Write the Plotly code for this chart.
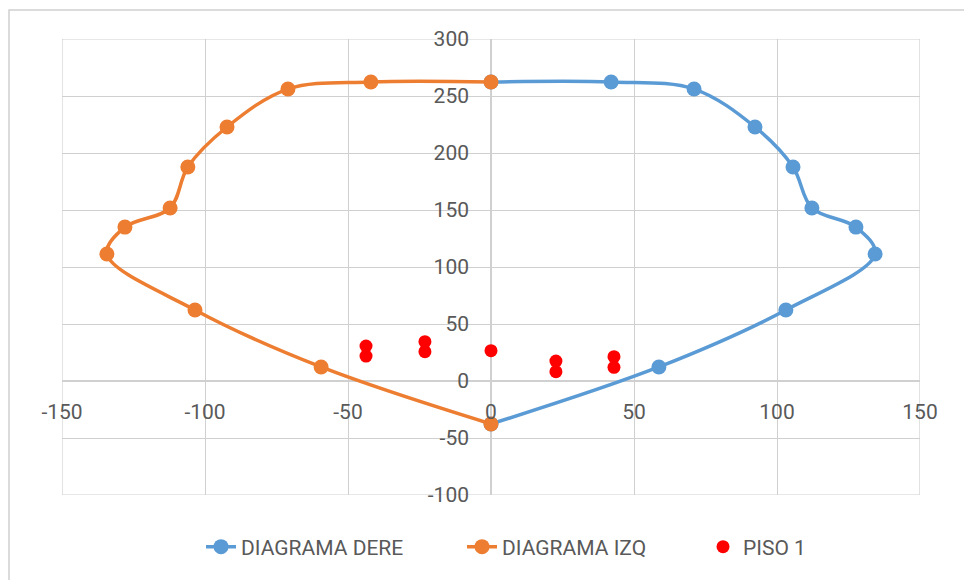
import plotly.graph_objects as go

# Interaction diagram, right side (positive moments)
dere_x = [0, 58.7, 103.1, 134.3, 127.6, 112.2, 105.6, 92.3, 71.0, 42.0, 0]
dere_y = [-37.7, 12.3, 62.3, 111.4, 135.0, 151.8, 187.7, 222.8, 256.1, 262.3, 262.3]

# Interaction diagram, left side (negative moments)
izq_x = [0, -42.0, -71.0, -92.3, -106.0, -112.2, -128.0, -134.3, -103.5, -59.4, 0]
izq_y = [262.3, 262.3, 256.1, 222.8, 187.7, 151.8, 135.0, 111.4, 62.3, 12.3, -37.7]

# Demand points of floor 1
piso_x = [-43.7, -43.7, -23.1, -23.1, 0, 22.7, 22.7, 43.0, 43.0]
piso_y = [30.7, 21.9, 34.5, 25.7, 26.6, 17.5, 8.2, 21.3, 12.0]

x_ticks = [-150, -100, -50, 0, 50, 100, 150]
y_ticks = [-100, -50, 0, 50, 100, 150, 200, 250, 300]

BLUE = "#5B9BD5"
ORANGE = "#ED7D31"
RED = "#FF0000"
GRID = "#D0D0D0"
TEXT = "#595959"
FONT = "Roboto, Arial, sans-serif"

fig = go.Figure()
fig.add_trace(go.Scatter(
    x=dere_x, y=dere_y, name="DIAGRAMA DERE", mode="lines+markers",
    line=dict(color=BLUE, width=3.5, shape="spline", smoothing=1.0),
    marker=dict(color=BLUE, size=15),
    legendwidth=216,
))
fig.add_trace(go.Scatter(
    x=izq_x, y=izq_y, name="DIAGRAMA IZQ", mode="lines+markers",
    line=dict(color=ORANGE, width=3.5, shape="spline", smoothing=1.0),
    marker=dict(color=ORANGE, size=15),
    legendwidth=196,
))
fig.add_trace(go.Scatter(
    x=piso_x, y=piso_y, name="PISO 1", mode="markers",
    marker=dict(color=RED, size=13),
))

W, H = 964, 580
ml, mr, mt, mb = 62, 44, 39, 85
pw, ph = W - ml - mr, H - mt - mb

# outer chart frame (left/top edges visible)
fig.add_shape(
    type="rect", xref="paper", yref="paper",
    x0=(9 - ml) / pw, x1=(W + 20 - ml) / pw,
    y0=-(H + 20 - (H - mb)) / ph, y1=1 + (mt - 10) / ph,
    line=dict(color="#D0D0D0", width=1.5), layer="below",
)
# border of the plotting area, continuing the grid
fig.add_shape(
    type="rect", xref="x", yref="y",
    x0=x_ticks[0], x1=x_ticks[-1], y0=y_ticks[0], y1=y_ticks[-1],
    line=dict(color=GRID, width=1.2), layer="below",
)

fig.update_layout(
    width=W, height=H,
    margin=dict(l=ml, r=mr, t=mt, b=mb, autoexpand=False),
    paper_bgcolor="white", plot_bgcolor="white",
    font=dict(family=FONT, size=21, color=TEXT),
    showlegend=True,
    legend=dict(
        orientation="h", x=0.5175, xanchor="center",
        yref="container", y=(H - 547) / H, yanchor="middle",
        font=dict(family=FONT, size=21, color=TEXT),
    ),
    xaxis=dict(
        range=[-150, 150], tickvals=x_ticks, ticktext=[str(v) for v in x_ticks],
        showgrid=True, gridcolor=GRID, gridwidth=1.2,
        zeroline=True, zerolinecolor=GRID, zerolinewidth=1.5,
        showline=False, ticks="", anchor="free", position=0.25,
        ticklabelstandoff=16, automargin=False,
        tickfont=dict(family=FONT, size=21, color=TEXT),
    ),
    yaxis=dict(
        range=[-100, 300], tickvals=y_ticks, ticktext=[str(v) for v in y_ticks],
        showgrid=True, gridcolor=GRID, gridwidth=1.2,
        zeroline=True, zerolinecolor=GRID, zerolinewidth=1.5,
        showline=False, ticks="", anchor="free", position=0.5,
        ticklabelstandoff=22, automargin=False,
        tickfont=dict(family=FONT, size=21, color=TEXT),
    ),
)

fig.write_html("out.html")
